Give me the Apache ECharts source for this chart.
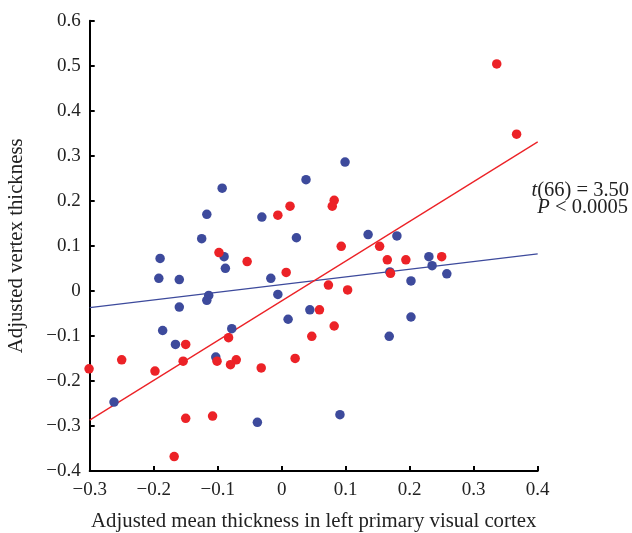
<!DOCTYPE html>
<html>
<head>
<meta charset="utf-8">
<script src="https://cdn.jsdelivr.net/npm/echarts@6/dist/echarts.min.js"></script>
<style>html,body{margin:0;padding:0;background:#fff;}#c{width:632px;height:533px;}</style>
</head>
<body>
<div id="c"></div>
<script>
// Data
var blueX = [-0.125,-0.093,-0.117,-0.031,0.038,0.023,0.099,0.135,0.180,-0.090,-0.088,-0.190,-0.192,-0.160,-0.017,-0.006,-0.114,-0.117,-0.160,0.044,-0.186,0.010,-0.078,-0.166,-0.103,-0.262,-0.038,0.230,0.235,0.169,0.258,0.202,0.202,0.168,0.091];
var blueY = [0.116,0.228,0.170,0.164,0.247,0.118,0.286,0.125,0.122,0.076,0.050,0.072,0.028,0.025,0.028,-0.008,-0.010,-0.021,-0.036,-0.042,-0.088,-0.063,-0.084,-0.119,-0.147,-0.247,-0.292,0.076,0.056,0.042,0.038,0.022,-0.058,-0.101,-0.275];
var redX = [0.336,0.367,-0.006,0.013,0.082,0.079,-0.098,-0.054,0.007,-0.083,0.047,-0.150,-0.250,-0.154,-0.101,-0.071,-0.080,-0.032,0.021,-0.301,-0.198,-0.150,-0.108,-0.168,0.093,0.153,0.250,0.165,0.194,0.170,0.073,0.103,0.059,0.082];
var redY = [0.504,0.348,0.168,0.188,0.201,0.188,0.085,0.065,0.041,-0.104,-0.101,-0.119,-0.153,-0.156,-0.156,-0.153,-0.164,-0.171,-0.150,-0.173,-0.178,-0.283,-0.278,-0.368,0.099,0.099,0.076,0.069,0.069,0.039,0.013,0.002,-0.042,-0.078];
var blueLineX = [-0.3, 0.4];
var blueLineY = [-0.037, 0.082];
var redLineX = [-0.3, 0.4];
var redLineY = [-0.287, 0.331];
var xTicks = [-0.3,-0.2,-0.1,0,0.1,0.2,0.3,0.4];
var yTicks = [-0.4,-0.3,-0.2,-0.1,0,0.1,0.2,0.3,0.4,0.5,0.6];
var xTitle = 'Adjusted mean thickness in left primary visual cortex';
var yTitle = 'Adjusted vertex thickness';
var statLine1 = ['t', '(66) = 3.50'];
var statLine2 = ['P', ' < 0.0005'];

function zip(a, b) { return a.map(function (v, i) { return [v, b[i]]; }); }
function fmt(v) {
  var r = Math.round(v * 10) / 10;
  if (r === 0) return '0';
  return (r < 0 ? '\u2212' : '') + Math.abs(r).toFixed(1);
}
var BLUE = '#3d4a9c', RED = '#ec2227';
var FONT = '"Liberation Serif", "DejaVu Serif", serif';
var rich = {
  i: {fontStyle: 'italic', fontFamily: FONT, fontSize: 20.5, fill: '#222'},
  n: {fontFamily: FONT, fontSize: 20.5, fill: '#222'}
};

var chart = echarts.init(document.getElementById('c'), null, {renderer: 'canvas'});
chart.setOption({
  backgroundColor: '#fff',
  animation: false,
  grid: {left: 89.7, right: 94.3, top: 20.7, bottom: 62, containLabel: false, outerBoundsMode: 'none'},
  xAxis: {
    type: 'value', min: xTicks[0], max: xTicks[xTicks.length - 1], interval: 0.1,
    splitLine: {show: false},
    axisLine: {onZero: false, lineStyle: {color: '#000', width: 2}},
    axisTick: {inside: true, length: 5, lineStyle: {color: '#000', width: 2}},
    axisLabel: {formatter: fmt, color: '#222', fontFamily: FONT, fontSize: 19, margin: 10},
    name: xTitle, nameLocation: 'middle', nameGap: 40,
    nameTextStyle: {color: '#222', fontFamily: FONT, fontSize: 20.8}
  },
  yAxis: {
    type: 'value', min: yTicks[0], max: yTicks[yTicks.length - 1], interval: 0.1,
    splitLine: {show: false},
    axisLine: {onZero: false, lineStyle: {color: '#000', width: 2}},
    axisTick: {inside: true, length: 5, lineStyle: {color: '#000', width: 2}},
    axisLabel: {formatter: fmt, color: '#222', fontFamily: FONT, fontSize: 19, margin: 9},
    name: yTitle, nameLocation: 'middle', nameGap: 63, nameRotate: 90,
    nameTextStyle: {color: '#222', fontFamily: FONT, fontSize: 20.8}
  },
  series: [
    {type: 'line', data: zip(blueLineX, blueLineY), symbol: 'none', clip: false, lineStyle: {color: BLUE, width: 1.3}, z: 1},
    {type: 'line', data: zip(redLineX, redLineY), symbol: 'none', clip: false, lineStyle: {color: RED, width: 1.3}, z: 1},
    {type: 'scatter', data: zip(blueX, blueY), symbolSize: 9.5, clip: false, itemStyle: {color: BLUE, opacity: 1}, z: 2},
    {type: 'scatter', data: zip(redX, redY), symbolSize: 9.5, clip: false, itemStyle: {color: RED, opacity: 1}, z: 3}
  ],
  graphic: [
    {type: 'text', right: 3, top: 180, style: {
      rich: rich, text: '{i|' + statLine1[0] + '}{n|' + statLine1[1] + '}', textAlign: 'right'
    }},
    {type: 'text', right: 4, top: 197, style: {
      rich: rich, text: '{i|' + statLine2[0] + '}{n|' + statLine2[1] + '}', textAlign: 'right'
    }}
  ]
});
</script>
</body>
</html>
